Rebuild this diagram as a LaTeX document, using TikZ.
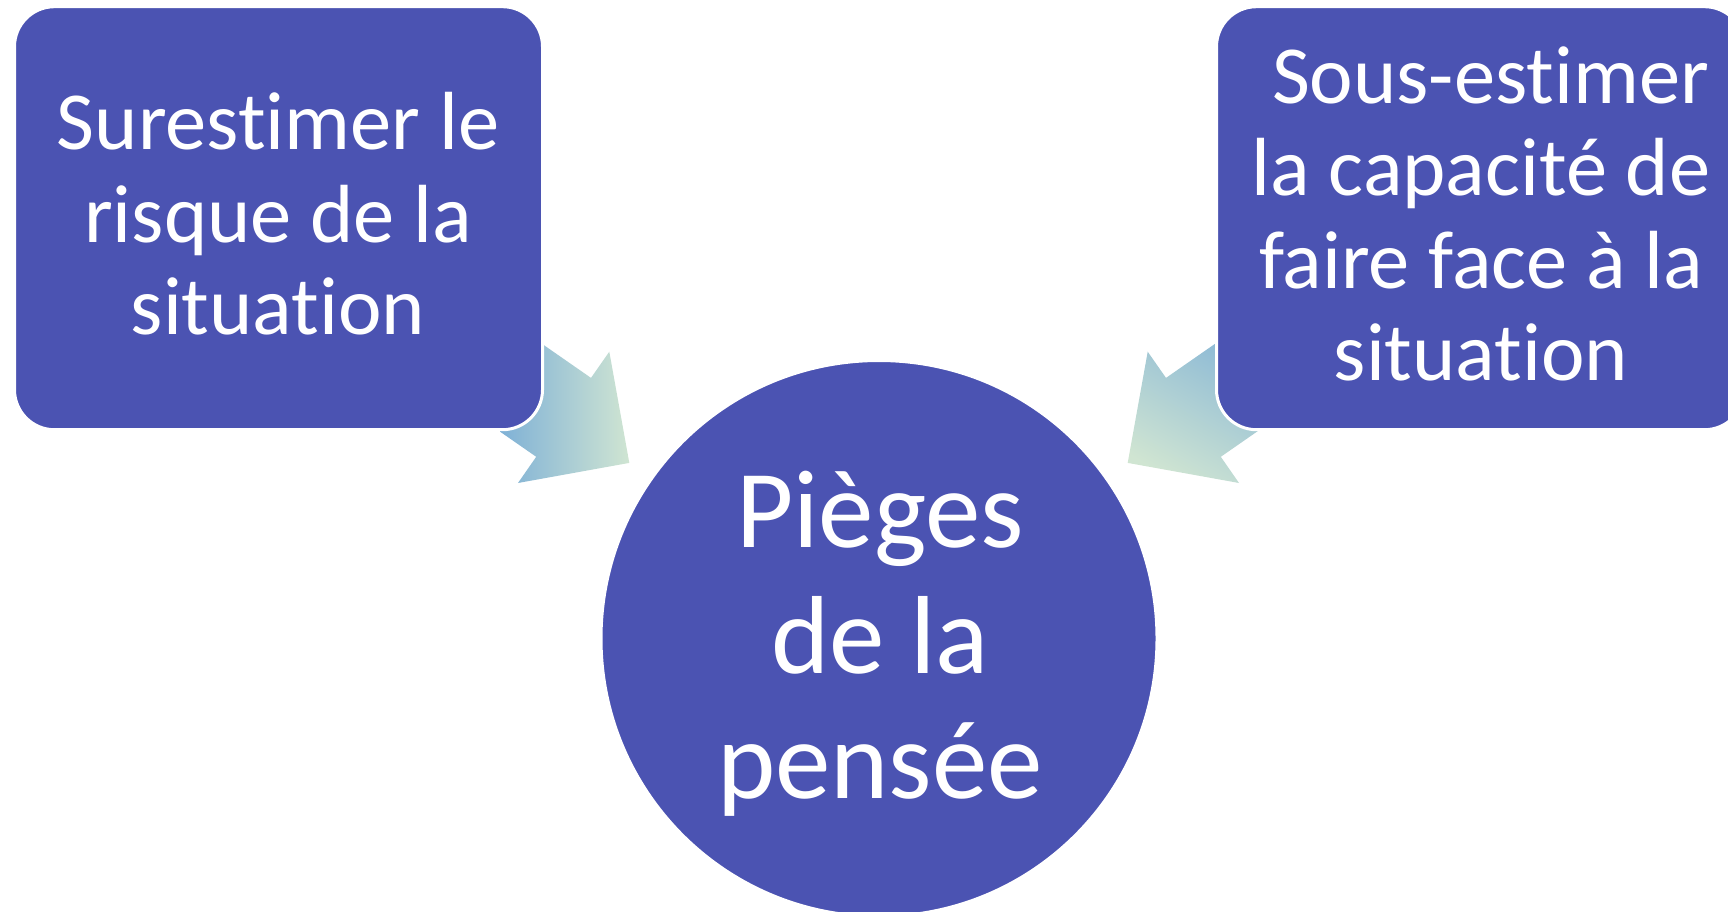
\documentclass[tikz,border=0pt]{standalone}
\usepackage{fontspec}
\setmainfont{Carlito}[Ligatures={NoCommon,NoRare,NoContextual}]
\definecolor{boxblue}{RGB}{75,83,178}
\definecolor{arrblue}{RGB}{127,177,214}
\definecolor{arrgreen}{RGB}{208,229,210}
\begin{document}
\begin{tikzpicture}[x=1pt,y=-1pt,
  card/.style={draw=white, line width=3pt, fill=boxblue, rounded corners=40pt,
    rectangle, minimum width=528pt, minimum height=423pt, anchor=north west},
  hub/.style={draw=white, line width=3pt, fill=boxblue, circle, minimum size=556pt, inner sep=0pt},
  boxtext/.style={text=white, align=center, inner sep=0pt, font=\fontsize{82.5}{92.5}\selectfont},
  bigtext/.style={text=white, align=center, inner sep=0pt, font=\fontsize{111}{125.5}\selectfont}]
\clip (0,0) rectangle (1728,912);
% left block arrow
\coordinate (la1) at (475.2,297.4);
\coordinate (la2) at (591.0,377.9);
\coordinate (la3) at (609.3,351.7);
\coordinate (la4) at (629.3,462.9);
\coordinate (la5) at (518.0,483.0);
\coordinate (la6) at (536.2,456.8);
\coordinate (la7) at (420.4,376.3);
\begin{scope}
  \clip (la1) -- (la2) -- (la3) -- (la4) -- (la5) -- (la6) -- (la7) -- cycle;
  \shade[left color=arrblue, right color=arrgreen] (500,290) rectangle (630,490);
\end{scope}
% right block arrow
\coordinate (ra1) at (1281.8,297.4);
\coordinate (ra2) at (1166.0,377.9);
\coordinate (ra3) at (1147.7,351.7);
\coordinate (ra4) at (1127.7,462.9);
\coordinate (ra5) at (1239.0,483.0);
\coordinate (ra6) at (1220.8,456.8);
\coordinate (ra7) at (1336.6,376.3);
\begin{scope}
  \clip (ra1) -- (ra2) -- (ra3) -- (ra4) -- (ra5) -- (ra6) -- (ra7) -- cycle;
  \shade[top color=arrblue, bottom color=arrgreen, shading angle=-30] (1125,290) rectangle (1260,490);
\end{scope}
% boxes and circle
\node[card] (risk) at (13,5.2) {};
\node[card] (cope) at (1215,5.2) {};
\node[hub] (trap) at (879,638.5) {};
% texts
\node[boxtext] (risktext) at (278,214) {Surestimer le\\risque de la\\situation};
\node[boxtext] (copetext) at (1481,214) {\hspace*{0.23em}Sous-estimer\\la capacité de\\faire face à la\\situation};
\node[bigtext] (traptext) at (880,644) {Pièges\\de la\\pensée};
\end{tikzpicture}
\end{document}
